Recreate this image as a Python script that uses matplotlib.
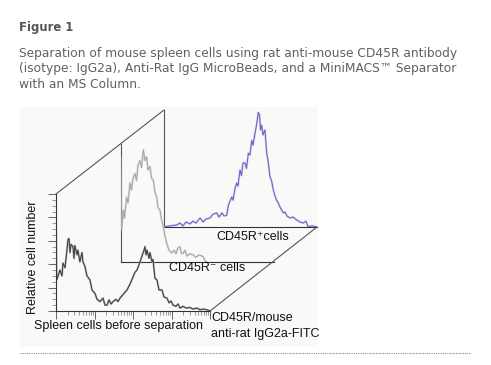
import numpy as np
import matplotlib
matplotlib.use("Agg")
import matplotlib.pyplot as plt
from matplotlib.patches import Rectangle, ConnectionPatch
from matplotlib.ticker import LogLocator, NullFormatter

# ---------------- data (log10 FITC intensity, relative cell number in % of panel height) -------------
front_log = [0.0, 0.018, 0.104, 0.156, 0.18, 0.234, 0.278, 0.31, 0.338, 0.364, 0.39, 0.44, 0.468, 0.49,
             0.545, 0.57, 0.62, 0.675, 0.70, 0.753, 0.805, 0.883, 0.935, 1.013, 1.065, 1.143, 1.22, 1.273,
             1.325, 1.377, 1.43, 1.48, 1.558, 1.61, 1.662, 1.74, 1.79, 1.844, 1.922, 2.0, 2.05, 2.104,
             2.182, 2.234, 2.286, 2.31, 2.338, 2.364, 2.416, 2.44, 2.494, 2.52, 2.57, 2.623, 2.675, 2.753,
             2.805, 2.883, 2.935, 2.987, 3.04, 3.117, 3.17, 3.22, 3.30, 3.377, 3.48, 3.558, 3.662, 3.74,
             3.818, 3.922, 4.0]
front_cnt = [84, 26.5, 35, 30, 41, 37, 50, 61, 62, 50, 57, 55, 45, 56,
             48, 52, 42, 50, 42, 38, 30, 26.5, 18, 15, 10, 8, 11, 5,
             5, 9.5, 6, 8, 10, 8, 11, 14, 16, 18, 23, 29, 33, 35,
             42, 47, 52, 55, 48, 52, 45, 50, 42, 44, 28, 26.5, 18, 18,
             12, 11, 7, 8.5, 5, 4, 6, 2.5, 4, 2.5, 3, 1.7, 2.5, 1,
             1.7, 1, 0]

neg_log = [0.0, 0.013, 0.06, 0.09, 0.149, 0.183, 0.235, 0.275, 0.314, 0.366, 0.405, 0.444, 0.497, 0.536,
           0.583, 0.627, 0.672, 0.706, 0.758, 0.797, 0.844, 0.889, 0.933, 0.967, 1.02, 1.059, 1.106,
           1.15, 1.195, 1.255, 1.325, 1.386, 1.438, 1.49, 1.542, 1.58, 1.629, 1.673, 1.725, 1.804,
           1.89, 1.96, 2.04, 2.15, 2.196, 2.25]
neg_cnt = [89, 27, 44, 37, 55, 50, 67, 61, 71, 75, 69, 82, 86, 80,
           95, 86, 89, 78, 81, 71, 69.5, 59, 55, 46, 44, 36, 30,
           22, 16, 10, 7.6, 10, 7, 12, 13, 7, 7.6, 10, 5, 7,
           6, 4, 6, 4.5, 1, 0]

pos_log = [0.0, 0.157, 0.332, 0.418, 0.497, 0.575, 0.68, 0.758, 0.837, 0.941, 1.02, 1.098, 1.203, 1.281,
           1.378, 1.438, 1.516, 1.569, 1.639, 1.686, 1.77, 1.804, 1.856, 1.9, 1.935, 1.987, 2.026,
           2.065, 2.118, 2.157, 2.204, 2.248, 2.293, 2.327, 2.379, 2.418, 2.465, 2.497, 2.523, 2.554,
           2.588, 2.64, 2.685, 2.719, 2.771, 2.81, 2.858, 2.902, 2.941, 2.988, 3.033, 3.12, 3.163,
           3.216, 3.294, 3.373, 3.47, 3.555, 3.64, 3.712, 3.765, 3.87, 4.0]
pos_cnt = [0, 1, 1.7, 3.4, 1, 4.3, 2.6, 5, 3.4, 7.7, 4.3, 6.8, 7.7, 11,
           12, 8.5, 12, 9.4, 10, 19, 25.6, 23, 33, 37.6, 35, 48.7, 44,
           54.7, 54.7, 50, 63, 61.5, 74, 70, 80, 87, 98, 95.7, 83, 87,
           78.6, 83, 63, 57, 42.7, 40, 31.6, 26.5, 23, 20.5, 17, 12, 12.8,
           9.4, 7.7, 8.5, 6, 4.3, 3.4, 5, 0.3, 1, 0]

title = "Figure 1"
caption = ["Separation of mouse spleen cells using rat anti-mouse CD45R antibody",
           "(isotype: IgG2a), Anti-Rat IgG MicroBeads, and a MiniMACS\u2122 Separator",
           "with an MS Column."]

# ---------------- figure ----------------
W, H = 491, 365
fig = plt.figure(figsize=(W / 100, H / 100), dpi=100)
fig.patch.set_facecolor("white")

def fx(x):
    return x / W

def fy(y):
    return 1 - y / H

# light background of the image area (behind everything)
bg = Rectangle((fx(20), fy(347)), fx(318) - fx(20), fy(107) - fy(347),
               transform=fig.transFigure, facecolor="#f9f9f7", edgecolor="none", zorder=-10)
fig.patches.append(bg)

def make_ax(left, right, top, bottom):
    ax = fig.add_axes([fx(left), fy(bottom), fx(right) - fx(left), fy(top) - fy(bottom)])
    ax.set_facecolor("none")
    ax.patch.set_visible(False)
    ax.set_xscale("log")
    ax.set_xlim(1, 1e4)
    ax.set_ylim(0, 100)
    for s in ("top", "right"):
        ax.spines[s].set_visible(False)
    return ax

ax_back = make_ax(164, 317, 110, 227)
ax_mid = make_ax(121, 274, 144, 262)
ax_front = make_ax(56, 210, 194, 311)

lab = ["Liberation Sans", "DejaVu Sans"]

# back panel (CD45R+)
ax_back.plot(10 ** np.array(pos_log), pos_cnt, color="#d4cdf0", lw=1.5, zorder=2)
ax_back.plot(10 ** np.array(pos_log), pos_cnt, color="#6a5cc0", lw=0.7, zorder=3)
for ax in (ax_back, ax_mid):
    ax.tick_params(which="both", length=0, labelbottom=False, labelleft=False)
    ax.spines["left"].set_color("#555555")
    ax.spines["bottom"].set_color("#333333")
    ax.spines["left"].set_linewidth(0.8)
    ax.spines["bottom"].set_linewidth(0.8)

# middle panel (CD45R-)
ax_mid.plot(10 ** np.array(neg_log), neg_cnt, color="#dcdcdc", lw=1.5, zorder=2)
ax_mid.plot(10 ** np.array(neg_log), neg_cnt, color="#a4a4a4", lw=0.7, zorder=3)

# front panel (before separation)
ax_front.plot(10 ** np.array(front_log), front_cnt, color="#b0b0b0", lw=1.4, zorder=2)
ax_front.plot(10 ** np.array(front_log), front_cnt, color="#3a3a3a", lw=0.7, zorder=3)
ax_front.spines["left"].set_color("#333333")
ax_front.spines["bottom"].set_color("#333333")
ax_front.spines["left"].set_linewidth(0.8)
ax_front.spines["bottom"].set_linewidth(0.8)
ax_front.set_yticks(np.arange(0, 101, 20))
ax_front.set_yticks(np.arange(0, 101, 5), minor=True)
ax_front.xaxis.set_major_locator(LogLocator(base=10, numticks=10))
ax_front.xaxis.set_minor_locator(LogLocator(base=10, subs=np.arange(2, 10), numticks=10))
ax_front.xaxis.set_minor_formatter(NullFormatter())
ax_front.tick_params(axis="y", which="major", length=6, width=0.7, color="#666666", labelleft=False)
ax_front.tick_params(axis="y", which="minor", length=3, width=0.6, color="#888888")
ax_front.tick_params(axis="x", which="major", length=6, width=0.7, color="#666666", labelbottom=False)
ax_front.tick_params(axis="x", which="minor", length=3, width=0.6, color="#888888")

# perspective connecting lines
for (xa, ya) in ((0, 1), (1, 0)):
    con = ConnectionPatch(xyA=(xa, ya), coordsA=ax_front.transAxes,
                          xyB=(xa, ya), coordsB=ax_back.transAxes,
                          color="#555555", lw=0.8, zorder=1)
    fig.add_artist(con)

# labels
fs = 9.0
fig.text(fx(33), fy(257), "Relative cell number", rotation=90, ha="center", va="center",
         fontsize=fs, family=lab, color="#111111")
fig.text(fx(118), fy(326.5), "Spleen cells before separation", ha="center", va="center",
         fontsize=fs, family=lab, color="#111111")
fig.text(fx(211), fy(318), "CD45R/mouse", ha="left", va="center",
         fontsize=fs, family=lab, color="#111111")
fig.text(fx(211), fy(334), "anti-rat IgG2a-FITC", ha="left", va="center",
         fontsize=fs, family=lab, color="#111111")
fig.text(fx(253), fy(237), "CD45R\u207acells", ha="center", va="center",
         fontsize=fs, family=lab, color="#111111")
fig.text(fx(207), fy(268), "CD45R\u207b cells", ha="center", va="center",
         fontsize=fs, family=lab, color="#111111")

# title and caption
fig.text(fx(19), fy(27.5), title, ha="left", va="center", fontsize=8.4, fontweight="bold",
         family="DejaVu Sans", color="#555555")
for i, line in enumerate(caption):
    fig.text(fx(19), fy(53 + 15.5 * i), line, ha="left", va="center", fontsize=8.8,
             family="DejaVu Sans", color="#606060")

# dotted separator
fig.add_artist(plt.Line2D([fx(20), fx(470)], [fy(353), fy(353)], transform=fig.transFigure,
                          color="#888888", lw=0.8, linestyle=(0, (1, 1))))

fig.savefig("out.png", dpi=100)
